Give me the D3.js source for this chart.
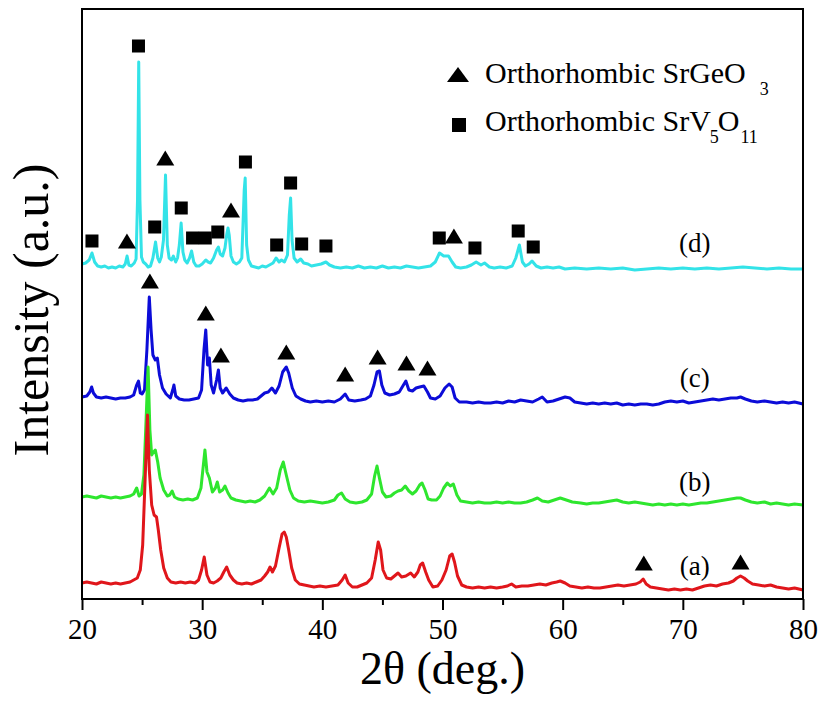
<!DOCTYPE html>
<html>
<head>
<meta charset="utf-8">
<script src="https://cdn.jsdelivr.net/npm/d3@7.9.0/dist/d3.min.js"></script>
<style>
  html, body { margin: 0; padding: 0; background: #fff; }
  svg { display: block; }
  text { font-family: "Liberation Serif", "Times New Roman", serif; fill: #000; }
</style>
</head>
<body>
<svg id="chart" width="822" height="701"></svg>
<script>
// 2θ (deg.) vs intensity (a.u., offset traces)

const xTicks = [20, 30, 40, 50, 60, 70, 80];
const xMinorTicks = [25, 35, 45, 55, 65, 75];

const traceD = [
  [20.0,335],[20.3,336],[20.6,339],[20.83,346],[21.05,337],[21.3,333],[21.6,332],[21.9,333],[22.2,331],[22.5,332],
  [22.8,331],[23.1,333],[23.4,332],[23.6,335],[23.75,343],[23.9,334],[24.1,333],[24.35,336],[24.5,340],[24.62,399],
  [24.72,537],[24.82,399],[24.95,342],[25.1,337],[25.3,335],[25.5,332],[25.7,333],[25.9,341],[26.12,357],[26.3,341],
  [26.45,337],[26.6,342],[26.78,359],[26.95,424],[27.1,354],[27.25,341],[27.45,339],[27.6,343],[27.8,337],[27.95,341],
  [28.1,354],[28.25,376],[28.4,347],[28.55,339],[28.75,336],[28.95,341],[29.12,348],[29.3,337],[29.5,333],[29.75,333],
  [30.0,335],[30.3,339],[30.5,337],[30.7,336],[30.95,341],[31.2,349],[31.35,352],[31.5,345],[31.7,343],[31.9,351],
  [32.05,365],[32.15,371],[32.25,364],[32.4,343],[32.6,337],[32.85,335],[33.1,337],[33.3,341],[33.5,409],[33.58,421],
  [33.7,354],[33.85,339],[34.1,333],[34.4,332],[34.7,331],[35.0,333],[35.3,332],[35.6,334],[35.9,336],[36.15,341],
  [36.4,337],[36.6,339],[36.85,337],[37.1,344],[37.25,384],[37.36,401],[37.48,359],[37.65,341],[37.9,337],[38.2,340],
  [38.45,336],[38.8,335],[39.1,333],[39.5,334],[39.9,335],[40.3,337],[40.6,334],[41.0,332],[41.5,331],[42.0,332],
  [42.5,331],[43.0,333],[43.5,331],[44.0,332],[44.5,331],[45.0,333],[45.5,331],[46.0,332],[46.5,331],[47.0,333],
  [47.5,332],[48.0,331],[48.5,332],[49.0,333],[49.4,337],[49.75,346],[50.1,343],[50.5,343],[50.8,337],[51.1,332],
  [51.5,331],[52.0,332],[52.4,334],[52.8,337],[53.2,334],[53.5,336],[53.9,332],[54.3,331],[54.8,332],[55.3,331],
  [55.8,333],[56.1,341],[56.4,354],[56.65,337],[56.9,333],[57.2,335],[57.45,338],[57.8,333],[58.2,331],[58.7,332],
  [59.2,331],[59.7,332],[60.2,330],[61,331],[62,330],[63,331],[64,330],[65,331],[66,329],[67,330],
  [68,331],[69,330],[70,331],[71,330],[72,331],[73,330],[74,331],[75,332],[76,331],[77,330],
  [78,331],[79,330],[80,330]
];

const traceC = [
  [20.0,202],[20.4,203],[20.65,207],[20.8,212],[20.95,206],[21.2,202],[21.6,201],[22.0,202],[22.4,201],[22.8,200],
  [23.2,201],[23.6,201],[24.0,202],[24.3,204],[24.55,214],[24.7,218],[24.85,206],[25.0,205],[25.2,209],[25.4,249],
  [25.6,302],[25.75,269],[25.9,244],[26.1,239],[26.27,241],[26.45,224],[26.7,211],[27.0,205],[27.35,201],[27.55,209],
  [27.65,214],[27.8,203],[28.1,200],[28.5,199],[28.9,199],[29.3,200],[29.7,201],[29.95,209],[30.15,249],[30.3,269],
  [30.45,234],[30.6,241],[30.75,214],[30.95,206],[31.2,219],[31.35,229],[31.5,211],[31.7,206],[32.0,211],[32.3,205],
  [32.6,201],[33.0,199],[33.4,198],[33.8,199],[34.2,199],[34.6,200],[35.0,204],[35.2,206],[35.5,207],[35.8,211],
  [36.1,206],[36.4,213],[36.7,227],[37.0,232],[37.2,226],[37.5,211],[37.8,203],[38.2,200],[38.6,198],[39.0,197],
  [39.5,198],[40.0,197],[40.5,198],[41.0,197],[41.5,200],[41.9,205],[42.2,199],[42.7,198],[43.2,199],[43.6,200],
  [44.0,203],[44.3,214],[44.55,227],[44.75,228],[44.95,214],[45.2,206],[45.6,204],[46.0,205],[46.4,207],[46.7,213],
  [46.95,218],[47.2,209],[47.5,208],[47.8,211],[48.1,212],[48.45,213],[48.75,207],[49.0,201],[49.4,200],[49.8,203],
  [50.2,211],[50.55,215],[50.8,212],[51.05,201],[51.4,197],[52,197],[52.5,196],[53,197],[53.5,196],[54,196],
  [54.5,197],[55,196],[55.5,198],[56,197],[56.5,199],[57,198],[57.5,197],[58,200],[58.3,202],[58.7,197],
  [59.2,198],[59.7,200],[60.2,202],[60.6,201],[61,197],[61.5,196],[62,195],[62.5,196],[63,195],[63.5,196],
  [64,195],[64.5,196],[65,194],[65.5,195],[66,194],[66.5,195],[67,195],[67.5,194],[68,195],[68.5,197],
  [69,198],[69.5,197],[70,198],[70.5,196],[71,197],[71.5,198],[72,199],[72.5,200],[73,199],[73.5,200],
  [74,201],[74.5,201],[74.8,202],[75.2,200],[75.7,198],[76.2,197],[76.8,198],[77.3,197],[77.8,196],[78.3,197],
  [78.8,196],[79.3,197],[80,195]
];

const traceB = [
  [20.0,102],[20.4,103],[20.8,102],[21.2,101],[21.6,103],[22.0,102],[22.4,101],[22.8,102],[23.2,101],[23.6,102],
  [24.0,103],[24.3,105],[24.55,111],[24.75,103],[24.95,105],[25.15,124],[25.3,169],[25.5,232],[25.65,169],[25.8,144],
  [25.95,147],[26.1,149],[26.3,137],[26.5,121],[26.8,109],[27.1,103],[27.3,104],[27.5,108],[27.7,102],[28.0,100],
  [28.4,99],[28.8,100],[29.2,99],[29.6,101],[29.9,111],[30.1,134],[30.23,149],[30.4,127],[30.6,121],[30.85,107],
  [31.1,111],[31.26,117],[31.45,107],[31.7,109],[31.9,113],[32.15,106],[32.4,101],[32.8,99],[33.2,98],[33.6,97],
  [34.0,98],[34.4,97],[34.8,99],[35.2,103],[35.6,111],[35.9,105],[36.2,111],[36.5,129],[36.75,137],[37.0,124],
  [37.3,109],[37.6,101],[38.0,98],[38.5,97],[39.0,98],[39.5,97],[40.0,96],[40.5,97],[41.0,99],[41.3,104],
  [41.6,106],[41.9,100],[42.3,97],[42.8,96],[43.3,97],[43.7,99],[44.1,105],[44.35,123],[44.55,133],[44.75,121],
  [45.0,107],[45.3,102],[45.7,103],[46.0,106],[46.3,108],[46.6,109],[46.9,113],[47.2,108],[47.5,105],[47.8,108],
  [48.1,114],[48.3,116],[48.55,109],[48.8,100],[49.1,99],[49.5,99],[49.8,103],[50.1,111],[50.4,116],[50.65,113],
  [50.9,115],[51.2,104],[51.5,98],[52,97],[52.5,96],[53,97],[53.5,96],[54,96],[54.5,97],[55,96],
  [55.5,97],[56,96],[56.5,96],[57,97],[57.5,99],[57.9,101],[58.3,98],[58.8,97],[59.3,99],[59.8,101],
  [60.3,99],[60.8,97],[61.5,96],[62,95],[62.5,96],[63,96],[63.5,97],[64,98],[64.5,99],[65,97],
  [65.5,96],[66,97],[66.5,96],[67,95],[67.5,94],[68,95],[68.5,94],[69,95],[69.5,94],[70,95],
  [70.5,94],[71,95],[71.5,96],[72,96],[72.5,97],[73,98],[73.5,99],[74,100],[74.5,101],[74.8,101],
  [75.2,99],[75.7,97],[76.2,96],[76.8,97],[77.3,95],[77.8,96],[78.3,95],[78.8,94],[79.3,95],[80,94]
];

const traceA = [
  [20.0,16],[20.4,17],[20.8,16],[21.2,15],[21.6,17],[22.0,16],[22.4,15],[22.8,16],[23.2,15],[23.6,16],
  [24.0,17],[24.3,19],[24.6,21],[24.85,29],[25.05,54],[25.25,119],[25.45,184],[25.6,129],[25.8,94],[26.0,84],
  [26.2,82],[26.35,69],[26.55,49],[26.8,31],[27.1,21],[27.4,17],[27.8,16],[28.2,17],[28.6,16],[29.0,17],
  [29.4,16],[29.7,19],[29.95,29],[30.17,42],[30.4,24],[30.65,17],[30.95,16],[31.25,18],[31.55,21],[31.8,27],
  [32.04,32],[32.3,24],[32.6,19],[32.9,16],[33.3,15],[33.7,16],[34.1,15],[34.5,17],[34.9,19],[35.2,23],
  [35.45,27],[35.65,32],[35.85,27],[36.1,33],[36.4,51],[36.65,65],[36.83,67],[37.0,62],[37.2,49],[37.45,31],
  [37.75,19],[38.1,15],[38.5,14],[38.9,13],[39.3,12],[39.8,13],[40.3,12],[40.8,13],[41.3,14],[41.65,19],
  [41.9,24],[42.15,16],[42.5,12],[42.9,12],[43.3,14],[43.7,16],[44.1,21],[44.4,39],[44.65,57],[44.85,49],
  [45.05,29],[45.35,21],[45.7,20],[46.0,23],[46.3,26],[46.6,22],[46.95,23],[47.35,26],[47.65,22],[47.95,27],
  [48.15,34],[48.35,36],[48.6,27],[48.85,19],[49.2,12],[49.6,13],[49.95,19],[50.3,29],[50.6,43],[50.8,45],
  [51.0,37],[51.25,23],[51.6,14],[52.0,12],[52.5,11],[53.0,12],[53.5,11],[54.0,12],[54.5,11],[55.0,12],
  [55.4,13],[55.75,15],[56.1,12],[56.6,13],[57.1,13],[57.6,14],[58.1,15],[58.6,14],[59.1,16],[59.5,17],
  [59.8,18],[60.2,16],[60.6,13],[61.1,12],[61.6,11],[62.1,12],[62.6,11],[63.1,11],[63.6,12],[64.1,13],
  [64.6,14],[65.1,13],[65.6,14],[66.1,15],[66.45,17],[66.7,20],[66.95,15],[67.3,12],[67.8,11],[68.3,10],
  [68.8,9],[69.3,10],[69.8,9],[70.3,10],[70.8,9],[71.3,11],[71.8,13],[72.3,14],[72.8,13],[73.3,15],
  [73.8,16],[74.2,18],[74.5,21],[74.8,23],[75.1,21],[75.4,18],[75.8,15],[76.3,14],[76.8,13],[77.3,14],
  [77.8,12],[78.3,11],[78.8,10],[79.3,11],[80,9]
];

// peak markers
const squaresSrV5O11 = [
  [20.83,358],[24.7,553],[26.05,372],[28.26,391],[29.2,361],[30.26,361],[31.3,367],[33.6,437],
  [36.2,354],[37.36,416],[38.28,355],[40.3,353],[49.73,361],[52.7,351],[56.3,368],[57.55,352]
];
const trianglesSrGeO3 = [
  [23.74,358],[26.93,441],[32.4,389],[50.95,363],
  [25.65,318],[30.3,286],[31.56,244],[37.0,247],[41.9,225],[44.6,242],[47.0,236],[48.75,231],
  [66.75,36],[74.8,37]
];

const seriesNames = ['(d)', '(c)', '(b)', '(a)'];
const seriesData = [traceD, traceC, traceB, traceA];
const seriesColors = ['#33e3e8', '#0c0cd8', '#2ee62e', '#e0161b'];
const labelAt = [[71.0,356],[71.0,221],[71.0,117],[71.0,33]];

const svg = d3.select('#chart');

const x = d3.scaleLinear().domain([20, 80]).range([82, 803]);
const y = d3.scaleLinear().domain([0, 590]).range([599, 9]);

// traces
const line = d3.line()
  .x(d => x(d[0]))
  .y(d => y(d[1]));

seriesData.forEach((s, i) => {
  svg.append('path')
    .datum(s)
    .attr('fill', 'none')
    .attr('stroke', seriesColors[i])
    .attr('stroke-width', 3)
    .attr('stroke-linejoin', 'round')
    .attr('d', line);
});

// markers
const triPath = (cx, cy, w, h) =>
  `M${cx},${cy - h / 2}L${cx + w / 2},${cy + h / 2}L${cx - w / 2},${cy + h / 2}Z`;

svg.append('g').selectAll('path')
  .data(trianglesSrGeO3)
  .join('path')
  .attr('d', d => triPath(x(d[0]), y(d[1]), 18, 15))
  .attr('fill', '#000');

svg.append('g').selectAll('rect')
  .data(squaresSrV5O11)
  .join('rect')
  .attr('x', d => x(d[0]) - 6.5)
  .attr('y', d => y(d[1]) - 6.5)
  .attr('width', 13)
  .attr('height', 13)
  .attr('fill', '#000');

// trace labels
svg.append('g').selectAll('text')
  .data(seriesNames)
  .join('text')
  .attr('x', (d, i) => x(labelAt[i][0]))
  .attr('y', (d, i) => y(labelAt[i][1]))
  .attr('text-anchor', 'middle')
  .attr('dominant-baseline', 'central')
  .attr('font-size', 27)
  .text(d => d);

// frame
svg.append('rect')
  .attr('x', x(20))
  .attr('y', y(590))
  .attr('width', x(80) - x(20))
  .attr('height', y(0) - y(590))
  .attr('fill', 'none')
  .attr('stroke', '#000')
  .attr('stroke-width', 2);

// bottom axis
const xAxis = svg.append('g')
  .attr('transform', `translate(0,${y(0)})`)
  .call(d3.axisBottom(x).tickValues(xTicks).tickSize(11).tickPadding(8).tickFormat(d3.format('d')));
xAxis.select('.domain').remove();
xAxis.selectAll('line').attr('stroke-width', 2);
xAxis.selectAll('text')
  .attr('font-size', 29)
  .attr('font-family', '"Liberation Serif", "Times New Roman", serif');

const xMinor = svg.append('g')
  .attr('transform', `translate(0,${y(0)})`)
  .call(d3.axisBottom(x).tickValues(xMinorTicks).tickSize(6).tickFormat(''));
xMinor.select('.domain').remove();
xMinor.selectAll('line').attr('stroke-width', 2);

// axis titles
svg.append('text')
  .attr('x', (x(20) + x(80)) / 2)
  .attr('y', 684)
  .attr('text-anchor', 'middle')
  .attr('font-size', 46)
  .text('2θ (deg.)');

svg.append('text')
  .attr('transform', `translate(48,${(y(0) + y(590)) / 2 + 6}) rotate(-90)`)
  .attr('text-anchor', 'middle')
  .attr('font-size', 50)
  .text('Intensity (a.u.)');

// legend
const legend = svg.append('g');
legend.append('path')
  .attr('d', triPath(458, 74.5, 22, 15))
  .attr('fill', '#000');
legend.append('rect')
  .attr('x', 452).attr('y', 118).attr('width', 14).attr('height', 14)
  .attr('fill', '#000');

const l1 = legend.append('text').attr('x', 485).attr('y', 83).attr('font-size', 30);
l1.append('tspan').text('Orthorhombic SrGeO');
l1.append('tspan').attr('dx', 14).attr('dy', 12).attr('font-size', 18).text('3');

const l2 = legend.append('text').attr('x', 485).attr('y', 131).attr('font-size', 30);
l2.append('tspan').text('Orthorhombic SrV');
l2.append('tspan').attr('dx', -1).attr('dy', 12).attr('font-size', 18).text('5');
l2.append('tspan').attr('dx', -1).attr('dy', -12).text('O');
l2.append('tspan').attr('dx', 1).attr('dy', 12).attr('font-size', 18).text('11');
</script>
</body>
</html>
